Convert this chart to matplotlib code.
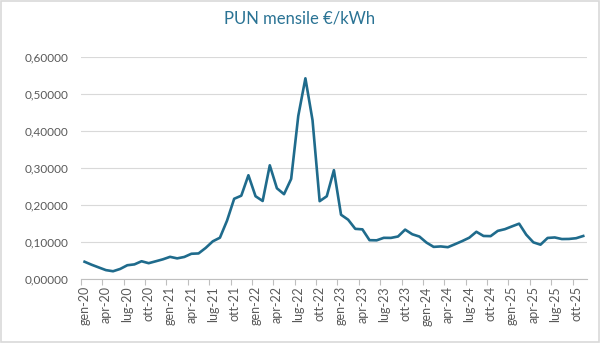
import matplotlib.pyplot as plt
from matplotlib.ticker import FuncFormatter

# PUN mensile (€/kWh), da gen-20 a nov-25
mesi = ['gen', 'feb', 'mar', 'apr', 'mag', 'giu', 'lug', 'ago', 'set', 'ott', 'nov', 'dic']
anni = ['20', '21', '22', '23', '24', '25']

pun_2020 = [0.04747, 0.03930, 0.03202, 0.02481, 0.02179, 0.02801, 0.03801, 0.04032, 0.04880, 0.04357, 0.04875, 0.05403]
pun_2021 = [0.06071, 0.05657, 0.06041, 0.06902, 0.06991, 0.08480, 0.10265, 0.11240, 0.15859, 0.21763, 0.22595, 0.28124]
pun_2022 = [0.22450, 0.21169, 0.30807, 0.24597, 0.23006, 0.27131, 0.44165, 0.54315, 0.42992, 0.21113, 0.22445, 0.29491]
pun_2023 = [0.17449, 0.16107, 0.13638, 0.13497, 0.10573, 0.10534, 0.11209, 0.11189, 0.11567, 0.13426, 0.12174, 0.11553]
pun_2024 = [0.09916, 0.08763, 0.08883, 0.08680, 0.09488, 0.10323, 0.11239, 0.12846, 0.11712, 0.11665, 0.13085, 0.13547]
pun_2025 = [0.14303, 0.15036, 0.12055, 0.09985, 0.09358, 0.11178, 0.11310, 0.10879, 0.10907, 0.11104, 0.11708]

valori = pun_2020 + pun_2021 + pun_2022 + pun_2023 + pun_2024 + pun_2025
etichette = [f"{m}-{a}" for a in anni for m in mesi][:len(valori)]

plt.rcParams['font.family'] = ['Lato', 'DejaVu Sans']

fig = plt.figure(figsize=(6, 3.43), dpi=100)
# bordo grigio del grafico
fig.patches.append(plt.Rectangle((0.002, 0.002), 0.996, 0.995, transform=fig.transFigure,
                                 fill=False, edgecolor='#d9d9d9', linewidth=1.2))
ax = fig.add_axes([0.135, 0.1857, 0.843, 0.6473])

x = list(range(len(valori)))
ax.plot(x, valori, color='#1f6b8c', linewidth=1.9, solid_joinstyle='round')

ax.set_xlim(-0.5, len(valori) - 0.5)
ax.set_ylim(0, 0.6)
ax.set_yticks([i / 10 for i in range(7)])
ax.yaxis.set_major_formatter(FuncFormatter(lambda v, p: f"{v:.5f}".replace('.', ',')))
ax.grid(axis='y', color='#d9d9d9', linewidth=0.8)
ax.set_axisbelow(True)

# etichette ogni 3 mesi, segni di graduazione tra le categorie
ax.set_xticks(x[::3])
ax.set_xticklabels(etichette[::3], rotation=90)
ax.set_xticks([i - 0.5 for i in range(0, len(valori) + 1, 3)], minor=True)
ax.tick_params(axis='x', which='major', length=0, pad=5, labelsize=9, labelcolor='#595959')
ax.tick_params(axis='x', which='minor', length=4, color='#bfbfbf', width=0.8)
ax.tick_params(axis='y', length=0, pad=9, labelsize=8.5, labelcolor='#595959')

for lato in ['top', 'right', 'left']:
    ax.spines[lato].set_visible(False)
ax.spines['bottom'].set_color('#bfbfbf')
ax.spines['bottom'].set_linewidth(0.8)

fig.text(0.5, 0.945, 'PUN mensile €/kWh', ha='center', va='center', fontsize=12, color='#2a7394')

fig.savefig('out.png', dpi=100)
